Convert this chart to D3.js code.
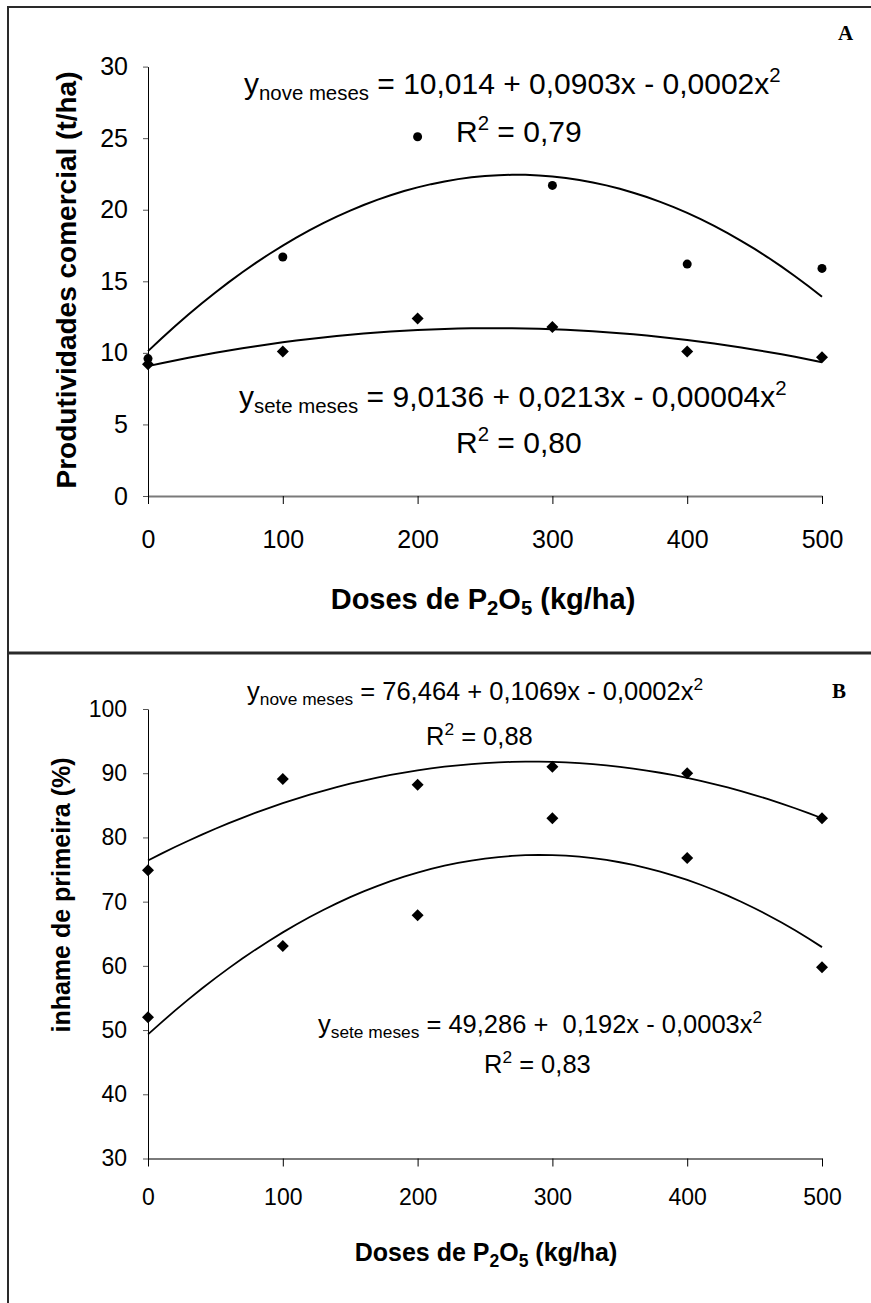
<!DOCTYPE html>
<html>
<head>
<meta charset="UTF-8">
<title>Doses de P2O5 - inhame</title>
<script src="https://d3js.org/d3.v7.min.js"></script>
<style>
  body { margin: 0; background: #fff; }
  svg { display: block; font-family: "Liberation Sans", Arial, sans-serif; }
  text { white-space: pre; }
</style>
</head>
<body>
<svg width="871" height="1303"></svg>
<script>
var doses = [0, 100, 200, 300, 400, 500];
var xTicks = [0, 100, 200, 300, 400, 500];

// painel A - produtividade comercial (t/ha)
var prodNove = [9.6, 16.7, 25.1, 21.7, 16.2, 15.9];
var prodSete = [9.2, 10.1, 12.4, 11.8, 10.1, 9.7];
var prodTicks = [0, 5, 10, 15, 20, 25, 30];

// painel B - inhame de primeira (%)
var primNove = [74.9, 89.1, 88.2, 91.0, 90.0, 83.0];
var primSete = [52.0, 63.1, 67.9, 83.0, 76.8, 59.8];
var primTicks = [30, 40, 50, 60, 70, 80, 90, 100];

var svg = d3.select("svg");

// moldura (topo, esquerda, divisao)
svg.append("line").attr("x1", 8).attr("y1", 7).attr("x2", 871).attr("y2", 7)
    .attr("stroke", "#2a2a2a").attr("stroke-width", 2);
svg.append("line").attr("x1", 8).attr("y1", 6).attr("x2", 8).attr("y2", 1303)
    .attr("stroke", "#2a2a2a").attr("stroke-width", 2);
svg.append("line").attr("x1", 8).attr("y1", 653).attr("x2", 871).attr("y2", 653)
    .attr("stroke", "#2a2a2a").attr("stroke-width", 3);

// regressao polinomial de 2a ordem (como a linha de tendencia do Excel)
function fitQuad(xs, ys) {
    var S = [0, 0, 0, 0, 0], T = [0, 0, 0];
    xs.forEach(function(x, i) {
        for (var k = 0; k < 5; k++) S[k] += Math.pow(x, k);
        for (var k = 0; k < 3; k++) T[k] += Math.pow(x, k) * ys[i];
    });
    var m = [[S[0], S[1], S[2], T[0]], [S[1], S[2], S[3], T[1]], [S[2], S[3], S[4], T[2]]];
    for (var i = 0; i < 3; i++) {
        for (var j = i + 1; j < 3; j++) {
            var f = m[j][i] / m[i][i];
            for (var k = i; k < 4; k++) m[j][k] -= f * m[i][k];
        }
    }
    var c = [0, 0, 0];
    for (var i = 2; i >= 0; i--) {
        var s = m[i][3];
        for (var k = i + 1; k < 3; k++) s -= m[i][k] * c[k];
        c[i] = s / m[i][i];
    }
    return function(x) { return c[0] + c[1] * x + c[2] * x * x; };
}

function eqText(g, x, y, size, sub, rest) {
    var t = g.append("text").attr("x", x).attr("y", y)
        .attr("font-size", size).attr("fill", "#000");
    t.append("tspan").text("y");
    t.append("tspan").attr("font-size", size * 0.68).attr("dy", size * 0.2).text(sub);
    t.append("tspan").attr("dy", -size * 0.2).text(rest);
    t.append("tspan").attr("font-size", size * 0.68).attr("dy", -size * 0.4).text("2");
}

function r2Text(g, x, y, size, val) {
    var t = g.append("text").attr("x", x).attr("y", y)
        .attr("font-size", size).attr("fill", "#000");
    t.append("tspan").text("R");
    t.append("tspan").attr("font-size", size * 0.68).attr("dy", -size * 0.4).text("2");
    t.append("tspan").attr("dy", size * 0.4).text(" = " + val);
}

function xTitle(g, cx, y, size) {
    var t = g.append("text").attr("x", cx).attr("y", y).attr("text-anchor", "middle")
        .attr("font-size", size).attr("font-weight", "bold");
    t.append("tspan").text("Doses de P");
    t.append("tspan").attr("font-size", size * 0.7).attr("dy", size * 0.22).text("2");
    t.append("tspan").attr("dy", -size * 0.22).text("O");
    t.append("tspan").attr("font-size", size * 0.7).attr("dy", size * 0.22).text("5");
    t.append("tspan").attr("dy", -size * 0.22).text(" (kg/ha)");
}

function diamond(g, cx, cy, r) {
    g.append("path")
        .attr("d", "M" + cx + "," + (cy - r) + "L" + (cx + r) + "," + cy + "L" + cx + "," + (cy + r) + "L" + (cx - r) + "," + cy + "Z")
        .attr("fill", "#000");
}

function panel(o) {
    var g = svg.append("g");
    var x = d3.scaleLinear().domain([0, 500]).range([148, 822]);
    var y = d3.scaleLinear().domain(o.yDomain).range(o.yRange);

    var ax = g.append("g").attr("transform", "translate(0," + o.yRange[0] + ")")
        .call(d3.axisBottom(x).tickValues(xTicks).tickSize(8).tickSizeOuter(0).tickPadding(o.xPad));
    ax.select(".domain").attr("stroke", "#7a7a7a").attr("stroke-width", 2);
    ax.selectAll(".tick line").attr("stroke", "#000");
    ax.selectAll("text").attr("font-size", o.tickSize).attr("font-family", "Liberation Sans, Arial").attr("fill", "#000");

    var ay = g.append("g").attr("transform", "translate(148,0)")
        .call(d3.axisLeft(y).tickValues(o.yTicks).tickSize(5).tickSizeOuter(0).tickPadding(o.yPad));
    ay.select(".domain").attr("stroke", "#000").attr("stroke-width", 1);
    ay.selectAll(".tick line").attr("stroke", "#555");
    ay.selectAll("text").attr("font-size", o.tickSize).attr("font-family", "Liberation Sans, Arial").attr("fill", "#000");

    // linhas de tendencia
    var samples = d3.range(0, 501, 10);
    o.series.forEach(function(s) {
        var f = fitQuad(doses, s.values);
        g.append("path")
            .datum(samples)
            .attr("d", d3.line().x(function(d) { return x(d); }).y(function(d) { return y(f(d)); }))
            .attr("fill", "none").attr("stroke", "#000").attr("stroke-width", o.lineWidth);
    });
    // pontos
    o.series.forEach(function(s) {
        s.values.forEach(function(v, i) {
            if (s.marker === "circle") {
                g.append("circle").attr("cx", x(doses[i])).attr("cy", y(v)).attr("r", 4.5).attr("fill", "#000");
            } else {
                diamond(g, x(doses[i]), y(v), 6);
            }
        });
    });

    xTitle(g, o.xTitleX, o.xTitleY, o.xTitleSize);
    g.append("text")
        .attr("transform", "translate(" + o.yTitleX + "," + o.yTitleY + ") rotate(-90)")
        .attr("text-anchor", "middle").attr("font-size", o.yTitleSize).attr("font-weight", "bold")
        .text(o.yTitle);
    g.append("text").attr("x", o.letterX).attr("y", o.letterY)
        .attr("font-family", "Liberation Serif, Times New Roman, serif").attr("font-weight", "bold")
        .attr("font-size", 21).text(o.letter);

    o.labels.forEach(function(l) {
        if (l.type === "eq") eqText(g, l.x, l.y, o.eqSize, l.sub, l.rest);
        else r2Text(g, l.x, l.y, o.eqSize, l.val);
    });
}

panel({
    yDomain: [0, 30], yRange: [496, 66.6], yTicks: prodTicks,
    tickSize: 25, xPad: 26, yPad: 15, xTitleSize: 29, yTitleSize: 28, eqSize: 30, lineWidth: 2,
    series: [{ values: prodNove, marker: "circle" }, { values: prodSete, marker: "diamond" }],
    xTitleX: 483, xTitleY: 609, yTitle: "Produtividades comercial (t/ha)", yTitleX: 76, yTitleY: 280,
    letter: "A", letterX: 838, letterY: 40,
    labels: [
        { type: "eq", x: 244, y: 94, sub: "nove meses", rest: " = 10,014 + 0,0903x - 0,0002x" },
        { type: "r2", x: 456, y: 142, val: "0,79" },
        { type: "eq", x: 239, y: 407, sub: "sete meses", rest: " = 9,0136 + 0,0213x - 0,00004x" },
        { type: "r2", x: 456, y: 453, val: "0,80" }
    ]
});

panel({
    yDomain: [30, 100], yRange: [1158.5, 709], yTicks: primTicks,
    tickSize: 23, xPad: 22, yPad: 16, xTitleSize: 25, yTitleSize: 25, eqSize: 25.5, lineWidth: 1.8,
    series: [{ values: primNove, marker: "diamond" }, { values: primSete, marker: "diamond" }],
    xTitleX: 486, xTitleY: 1261, yTitle: "inhame de primeira (%)", yTitleX: 70, yTitleY: 895,
    letter: "B", letterX: 832, letterY: 698,
    labels: [
        { type: "eq", x: 247, y: 700, sub: "nove meses", rest: " = 76,464 + 0,1069x - 0,0002x" },
        { type: "r2", x: 426, y: 745, val: "0,88" },
        { type: "eq", x: 318, y: 1033, sub: "sete meses", rest: " = 49,286 +  0,192x - 0,0003x" },
        { type: "r2", x: 484, y: 1073, val: "0,83" }
    ]
});
</script>
</body>
</html>
